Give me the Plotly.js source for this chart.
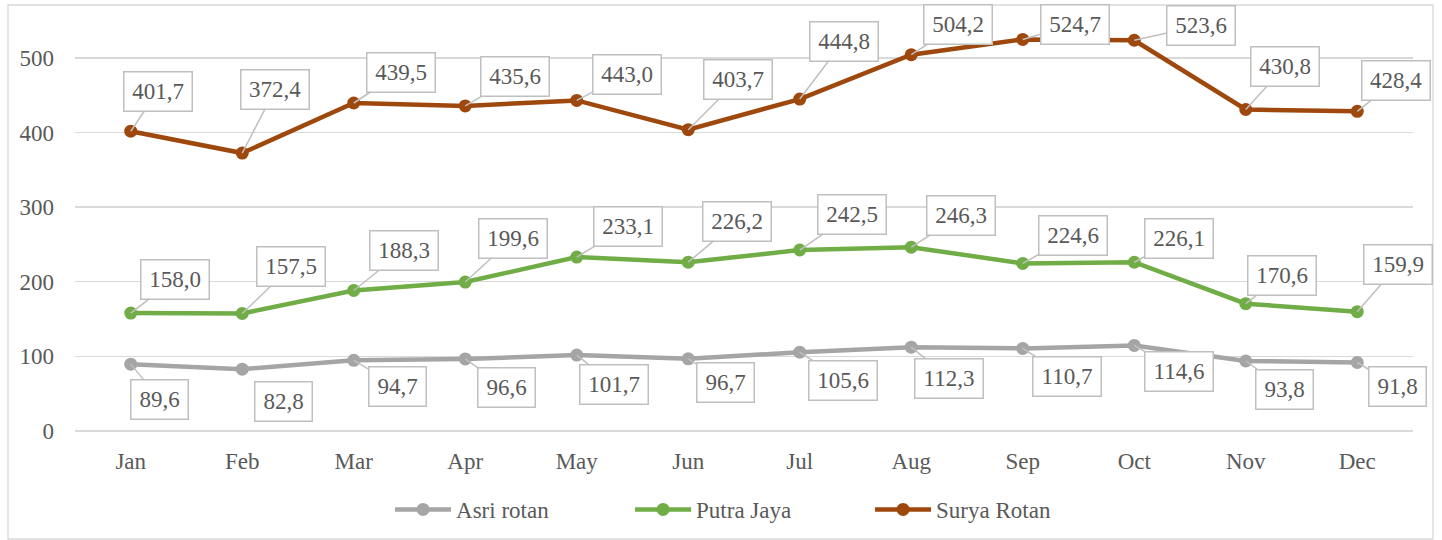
<!DOCTYPE html>
<html>
<head>
<meta charset="utf-8">
<script src="https://cdn.plot.ly/plotly-3.0.1.min.js"></script>
<style>
html,body{margin:0;padding:0;background:#fff;}
#chart{width:1442px;height:540px;}
</style>
</head>
<body>
<div id="chart"></div>
<script>
// ---- data ----
const months = ["Jan","Feb","Mar","Apr","May","Jun","Jul","Aug","Sep","Oct","Nov","Dec"];
const asriRotan = [89.6, 82.8, 94.7, 96.6, 101.7, 96.7, 105.6, 112.3, 110.7, 114.6, 93.8, 91.8];
const putraJaya = [158.0, 157.5, 188.3, 199.6, 233.1, 226.2, 242.5, 246.3, 224.6, 226.1, 170.6, 159.9];
const suryaRotan = [401.7, 372.4, 439.5, 435.6, 443.0, 403.7, 444.8, 504.2, 524.7, 523.6, 430.8, 428.4];
const seriesNames = ["Asri rotan", "Putra Jaya", "Surya Rotan"];
const yTicks = [0, 100, 200, 300, 400, 500];

// ---- label placement (pixel offsets of callout boxes from points) ----
const asriLabelOffsets = [[29,35],[41,32],[44,26],[41,29],[37,29],[37,24],[43,28],[38,31],[44,28],[45,26],[39,28],[40,24]];
const putraLabelOffsets = [[44,-34],[49,-47],[50,-40],[48,-44],[51,-31],[49,-41],[52,-36],[50,-32],[50,-28],[45,-24],[36,-28],[41,-47]];
const suryaLabelOffsets = [[27,-40],[33,-64],[47,-31],[50,-29],[50,-26],[50,-50],[44,-58],[47,-30],[52,-15],[67,-15],[39,-43],[39,-31]];

const FONT = 'Liberation Serif, DejaVu Serif, serif';
const TEXT = '#595959';
const colors = ['#A5A5A5', '#70AD47', '#9E480E'];
const allSeries = [asriRotan, putraJaya, suryaRotan];
const allOffsets = [asriLabelOffsets, putraLabelOffsets, suryaLabelOffsets];

function fmt(v){ return v.toFixed(1).replace('.', ','); }

const traces = allSeries.map((vals, i) => ({
  type: 'scatter',
  mode: 'lines+markers',
  name: seriesNames[i],
  x: months,
  y: vals,
  line: {color: colors[i], width: 4.5},
  marker: {color: colors[i], size: 13},
  cliponaxis: false,
  hoverinfo: 'skip'
}));

const annotations = [];
allSeries.forEach((vals, i) => {
  vals.forEach((v, j) => {
    const t = fmt(v);
    annotations.push({
      x: months[j], y: v, xref: 'x', yref: 'y',
      text: t,
      showarrow: true, arrowhead: 0, arrowwidth: 1.5, arrowcolor: '#BFBFBF',
      standoff: 0, startstandoff: 0,
      ax: allOffsets[i][j][0], ay: allOffsets[i][j][1],
      bgcolor: '#FFFFFF', bordercolor: '#BFBFBF', borderwidth: 1.5, borderpad: 5,
      width: t.length * 11 + 2, height: 28,
      font: {family: FONT, size: 23, color: TEXT}
    });
  });
});

const layout = {
  width: 1442, height: 540,
  margin: {l: 75, r: 29, t: 28, b: 109, autoexpand: false},
  paper_bgcolor: '#FFFFFF', plot_bgcolor: '#FFFFFF',
  font: {family: FONT, size: 23, color: TEXT},
  showlegend: true,
  legend: {
    orientation: 'h', xref: 'container', yref: 'container',
    x: 0.2705, xanchor: 'left', y: 0.0963, yanchor: 'top',
    itemwidth: 56,
    entrywidth: 169, entrywidthmode: 'pixels',
    font: {family: FONT, size: 23, color: TEXT}
  },
  xaxis: {
    type: 'category', range: [-0.5, 11.5], autorange: false,
    showgrid: false, zeroline: false, showline: false,
    ticks: '', ticklabelstandoff: 14, automargin: false,
    tickfont: {family: FONT, size: 23, color: TEXT}
  },
  yaxis: {
    range: [0, 540], autorange: false, tickvals: yTicks, ticktext: yTicks.map(String),
    showgrid: true, gridcolor: '#D9D9D9', gridwidth: 1.3,
    zeroline: true, zerolinecolor: '#D9D9D9', zerolinewidth: 1.3,
    showline: false, ticks: '', ticklabelstandoff: 20, automargin: false,
    tickfont: {family: FONT, size: 23, color: TEXT}
  },
  annotations: annotations,
  shapes: [{
    type: 'rect', xref: 'paper', yref: 'paper',
    x0: (8 - 75) / 1338, x1: (1433 - 75) / 1338,
    y0: (431 - 539) / 403, y1: (431 - 5) / 403,
    line: {color: '#D9D9D9', width: 1.3}, fillcolor: 'rgba(0,0,0,0)', layer: 'below'
  }]
};

Plotly.newPlot('chart', traces, layout, {displayModeBar: false, staticPlot: true});
</script>
</body>
</html>
